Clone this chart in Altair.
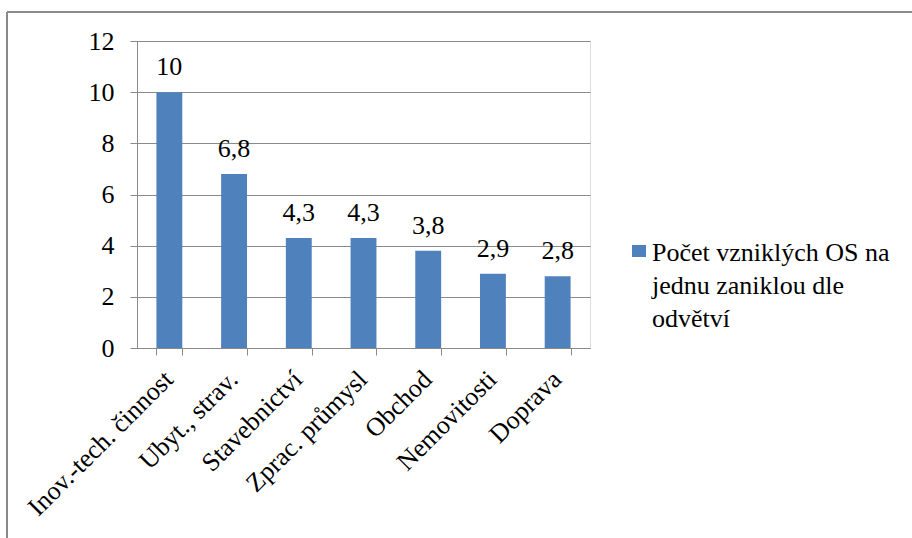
import altair as alt
import pandas as pd

categories = ["Inov.-tech. činnost", "Ubyt., strav.", "Stavebnictví", "Zprac. průmysl",
              "Obchod", "Nemovitosti", "Doprava"]
values = [10, 6.8, 4.3, 4.3, 3.8, 2.9, 2.8]
legend_lines = ["Počet vzniklých OS na", "jednu zaniklou dle", "odvětví"]
y_ticks = [0, 2, 4, 6, 8, 10, 12]

series_name = " ".join(legend_lines)
df = pd.DataFrame({"cat": categories, "value": values, "series": series_name})

FONT = "Liberation Serif"
FS = 26
GRAY = "#8a8a8a"
BLUE = "#4F81BD"

x_enc = alt.X("cat:N", sort=None, title=None,
              scale=alt.Scale(paddingInner=0.6, paddingOuter=0.3),
              axis=alt.Axis(labelAngle=-45, labelAlign="right", labelBaseline="middle",
                            labelFont=FONT, labelFontSize=FS, labelColor="black",
                            labelPadding=20, labelOffset=-1, tickBand="extent", tickSize=7,
                            tickColor=GRAY, domainColor=GRAY, labelLimit=400))
y_enc = alt.Y("value:Q", title=None,
              scale=alt.Scale(domain=[0, 12], nice=False),
              axis=alt.Axis(values=y_ticks, labelFont=FONT, labelFontSize=FS,
                            labelColor="black", labelPadding=16, tickSize=7,
                            tickColor=GRAY, domainColor=GRAY, gridColor=GRAY,
                            grid=True))

base = alt.Chart(df)

bars = base.mark_bar(color=BLUE).encode(
    x=x_enc, y=y_enc,
    color=alt.Color("series:N", scale=alt.Scale(range=[BLUE]),
                    legend=alt.Legend(title=legend_lines, titleOrient="right",
                                      titleFont=FONT, titleFontSize=FS, titleFontWeight="normal",
                                      titleColor="black", titleLineHeight=33,
                                      titleAlign="left", titleBaseline="top", titlePadding=2,
                                      titleLimit=400,
                                      orient="none", legendX=495, legendY=226,
                                      labelExpr="''", labelLimit=0,
                                      symbolType="M-1,-4.15H1V-2.43H-1Z", symbolSize=196,
                                      symbolStrokeWidth=0, padding=0)),
)

labels = base.transform_calculate(
    lab="replace(format(datum.value, '.1~f'), '.', ',')"
).mark_text(font=FONT, fontSize=FS, color="black", baseline="alphabetic", dy=-17).encode(
    x=alt.X("cat:N", sort=None), y="value:Q", text="lab:N"
)

border = alt.Chart(alt.Data(values=[{}]))
top_line = border.mark_rule(color=GRAY, strokeWidth=2).encode(
    x=alt.value(-130), x2=alt.value(800), y=alt.value(-29))
left_line = border.mark_rule(color=GRAY, strokeWidth=2).encode(
    x=alt.value(-130), y=alt.value(-29), y2=alt.value(520))

chart = alt.layer(top_line, left_line, bars, labels).properties(
    width=453, height=307,
    autosize=alt.AutoSizeParams(type="none"),
    padding={"left": 137, "top": 41, "right": 322, "bottom": 190},
).configure_view(stroke=None).configure(background="white")

chart.save("out.html", embed_options={"renderer": "svg", "actions": False})
